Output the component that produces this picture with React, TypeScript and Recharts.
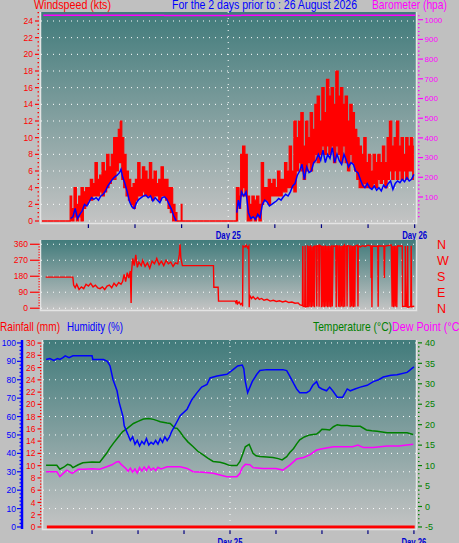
import React from 'react';
import { ComposedChart, Line, Area, XAxis, YAxis, CartesianGrid } from 'recharts';

const NARROW = '"Liberation Sans Narrow", "Liberation Sans", Arial, sans-serif';
const SANS = '"Liberation Sans", Arial, sans-serif';

// hours since Day 24 00:00 -> [hour, gust low, gust high, average]
const wind: [number, number, number, number | null][] = [
  [0, 0, 0, null], [3.6, 0, 0, null],
  [3.7, 0, 3, 0.3], [4.0, 0, 1.5, 0.5], [4.3, 0.5, 4, 1.5], [4.6, 0, 2, 0.3], [4.9, 0.5, 3, 0.8],
  [5.2, 0, 4, 1.2], [5.5, 1.5, 3.5, 2], [5.8, 2, 4, 1.8], [6.1, 2.5, 4, 2.3], [6.4, 2.5, 5, 2.8],
  [6.7, 3, 4.5, 2.6], [7.0, 3, 7, 2.8], [7.3, 3, 5, 2.5], [7.6, 3.5, 5.5, 3.0], [7.9, 3, 7, 3.2],
  [8.2, 3.5, 6, 3.6], [8.5, 4, 8, 4.2], [8.8, 4.5, 6.5, 4.6], [9.1, 5, 8, 5.0], [9.4, 5, 10, 5.3],
  [9.7, 6, 10, 5.5], [10.0, 7, 11, 5.8], [10.2, 7, 12, 6.2], [10.4, 5, 10, 5.3], [10.7, 4, 8, 4.5],
  [11.0, 3, 6, 3.5], [11.3, 2.5, 5, 2.3], [11.6, 2, 4, 1.7], [11.9, 1.5, 4.5, 1.5], [12.2, 2.5, 5, 2.2],
  [12.5, 3, 7, 2.6], [12.8, 3, 5, 2.8], [13.1, 3.5, 6.5, 3.0], [13.4, 3, 6, 3.1], [13.7, 3, 5, 2.8],
  [14.0, 3, 7, 3.0], [14.3, 2.5, 5, 2.4], [14.6, 3, 6, 2.8], [14.9, 3, 4.5, 2.5], [15.2, 2.5, 5, 2.2],
  [15.5, 3, 6.5, 2.8], [15.8, 3, 5, 2.9], [16.1, 2.5, 5, 2.6], [16.4, 1.5, 4, 2.0], [16.7, 1, 4, 1.4],
  [17.0, 0, 2, 0.6], [17.3, 0, 1, 0], [17.5, 0, 0, null], [17.9, 0, 0, null], [18.0, 0, 2, null],
  [18.1, 0, 0, null], [25.0, 0, 0, null],
  [25.1, 0, 4, 1.0], [25.3, 2, 4, 2.5], [25.5, 1.5, 3, 1.5], [25.7, 3, 8, 3.5], [26.0, 4, 9, 3.0],
  [26.3, 3, 8, 3.5], [26.6, 0, 3, 1.0], [26.9, 0, 2, 0.3], [27.2, 0.5, 3, 0.5], [27.5, 0, 2.5, 0.2],
  [27.8, 0.5, 3, 0.8], [28.1, 0, 2, 0.4], [28.4, 2, 7, 2.0], [28.7, 2.5, 4, 2.5], [29.0, 2.5, 4, 2.3],
  [29.3, 2, 5, 1.8], [29.6, 3, 4.5, 2.0], [29.9, 3, 5, 2.2], [30.2, 3, 4, 2.4], [30.5, 3, 6, 2.7],
  [30.8, 3, 5, 2.5], [31.1, 3.5, 5, 2.9], [31.4, 3.5, 7, 3.2], [31.7, 4, 6, 3.0], [32.0, 4, 9, 3.5],
  [32.3, 4, 6, 4.2], [32.6, 3.5, 12, 4.5], [32.9, 6, 10, 5.5], [33.2, 7, 12, 6.0], [33.5, 6, 13, 6.8],
  [33.8, 5, 9, 5.0], [34.1, 6, 12, 6.5], [34.4, 7, 10, 5.8], [34.7, 6, 13, 6.0], [35.0, 7, 11, 7.0],
  [35.3, 8, 14, 7.3], [35.6, 7, 15, 8.0], [35.9, 8, 12, 7.3], [36.2, 9, 16, 8.5], [36.5, 8, 13, 7.0],
  [36.8, 9, 17, 8.0], [37.1, 8, 15, 7.5], [37.4, 9, 16, 8.8], [37.7, 7, 14, 7.0], [38.0, 9, 18, 8.0],
  [38.3, 8, 15, 7.2], [38.6, 7, 16, 6.8], [38.9, 9, 14, 8.0], [39.2, 7, 15, 7.3], [39.5, 6, 12, 6.5],
  [39.8, 8, 14, 7.0], [40.1, 7, 13, 6.8], [40.4, 6, 11, 6.0], [40.7, 5, 10, 5.8], [41.0, 4, 9, 5.0],
  [41.3, 4, 8, 4.3], [41.6, 4.5, 10, 4.0], [41.9, 4, 7, 4.5], [42.2, 4, 8, 4.0], [42.5, 4, 6, 3.8],
  [42.8, 4.5, 8, 4.2], [43.1, 4, 7, 3.7], [43.4, 5, 8, 4.0], [43.7, 4.5, 7, 3.6], [44.0, 5, 9, 4.3],
  [44.3, 4, 7, 4.0], [44.6, 5, 10, 4.5], [44.9, 6, 12, 4.8], [45.2, 5, 9, 3.8], [45.5, 6, 10, 4.5],
  [45.8, 5, 12, 4.8], [46.1, 6, 9, 4.6], [46.4, 5, 10, 5.0], [46.7, 6, 8, 4.7], [47.0, 5, 10, 5.2],
  [47.3, 6, 9, 4.8], [47.6, 6, 10, 5.0], [47.9, 5, 9, 5.6],
];

const barometer: [number, number][] = [
  [0.2, 1022], [15.7, 1022], [15.8, 1021.5], [25.6, 1021.5], [25.7, 1022], [48.1, 1022],
];

const direction: [number, number][] = [
  [0.5, 175], [4.0, 175], [4.1, 130], [4.3, 115], [4.5, 135], [4.8, 105], [5.1, 120], [5.4, 110],
  [5.7, 135], [6.0, 125], [6.3, 140], [6.6, 120], [6.9, 130], [7.2, 115], [7.5, 110], [7.8, 120],
  [8.1, 105], [8.4, 125], [8.7, 130], [9.0, 115], [9.3, 140], [9.6, 125], [9.9, 145], [10.2, 135],
  [10.4, 150], [10.6, 190], [10.8, 150], [11.0, 200], [11.2, 170], [11.4, 210], [11.5, 30], [11.55, 200],
  [11.7, 280], [11.9, 240], [12.1, 300], [12.3, 230], [12.5, 260], [12.8, 240], [13.0, 270], [13.3, 235],
  [13.6, 255], [13.9, 225], [14.2, 265], [14.5, 250], [14.8, 280], [15.1, 245], [15.4, 265], [15.7, 240],
  [16.0, 270], [16.3, 250], [16.6, 260], [16.9, 235], [17.2, 255], [17.5, 250], [17.7, 300], [17.8, 360],
  [17.9, 285], [18.1, 240], [22.1, 240], [22.15, 118], [22.7, 118], [22.75, 40], [24.9, 40], [25.0, 30],
  [25.1, 45], [25.2, 25], [25.4, 35], [25.6, 20], [25.8, 30], [25.85, 10], [25.9, 350], [26.2, 345],
  [26.3, 355], [26.5, 340], [26.65, 350], [26.7, 5], [26.75, 60], [26.8, 70], [27.0, 55], [27.2, 65],
  [27.5, 50], [27.8, 60], [28.0, 50], [28.3, 55], [28.6, 45], [29.0, 50], [29.4, 40], [29.8, 45],
  [30.2, 38], [30.6, 42], [31.0, 35], [31.4, 40], [31.8, 32], [32.2, 35], [32.6, 28], [33.0, 30],
  [33.2, 20], [33.55, 15], [33.6, 350], [33.65, 10], [33.85, 12], [33.9, 352], [33.95, 8], [34.15, 10],
  [34.2, 355], [34.3, 5], [34.4, 350], [34.5, 8], [34.6, 355], [34.7, 5], [34.8, 348], [34.9, 10],
  [35.0, 352], [35.1, 6], [35.15, 350], [35.35, 348], [35.4, 10], [35.45, 352], [35.65, 350], [35.7, 8],
  [35.75, 355], [35.95, 350], [36.0, 5], [36.1, 352], [36.2, 8], [36.3, 350], [36.4, 5], [36.5, 355],
  [36.6, 10], [36.7, 350], [36.8, 5], [36.9, 352], [37.0, 8], [37.1, 350], [37.2, 5], [37.3, 355],
  [37.4, 10], [37.5, 350], [37.85, 348], [37.9, 5], [37.95, 352], [38.1, 350], [38.2, 8], [38.3, 355],
  [38.4, 5], [38.5, 350], [38.6, 10], [38.7, 352], [38.8, 6], [38.85, 350], [38.95, 355], [39.0, 8],
  [39.05, 350], [39.25, 348], [39.3, 10], [39.35, 352], [39.6, 350], [39.7, 5], [39.8, 355], [39.9, 10],
  [40.0, 350], [40.1, 5], [40.2, 352], [40.3, 8], [40.35, 350], [40.65, 355], [40.7, 10], [40.75, 350],
  [41.0, 345], [41.3, 352], [41.6, 348], [42.0, 355], [42.35, 350], [42.4, 170], [42.45, 352], [42.5, 5],
  [42.55, 350], [43.25, 348], [43.3, 8], [43.35, 352], [44.05, 350], [44.1, 170], [44.15, 350],
  [45.0, 355], [45.1, 8], [45.2, 350], [45.3, 5], [45.4, 352], [45.5, 10], [45.6, 350], [45.7, 5],
  [45.8, 355], [45.85, 350], [46.4, 350], [46.45, 10], [46.75, 12], [46.8, 350], [46.85, 170], [46.9, 10],
  [47.05, 8], [47.1, 350], [47.15, 5], [47.5, 10], [47.55, 352], [47.6, 8], [47.95, 12],
];

const humidity: [number, number][] = [
  [0, 91], [0.5, 91.5], [1.0, 90.5], [1.5, 91.5], [1.8, 91], [2.2, 92], [2.5, 93], [3.0, 92],
  [3.5, 93], [4.5, 93], [5.5, 93], [6.0, 93], [6.1, 91], [7.5, 91], [8.0, 90], [8.35, 87.5],
  [8.74, 80], [9.26, 74], [9.52, 68], [10.04, 60], [10.2, 55], [10.6, 51], [11.0, 47], [11.3, 49],
  [11.6, 45], [11.9, 47], [12.2, 44], [12.5, 46.5], [12.8, 45], [13.1, 48], [13.4, 44.5], [13.7, 46],
  [14.0, 45], [14.3, 47], [14.6, 45], [14.9, 48], [15.2, 46], [15.5, 49], [15.8, 47], [16.1, 49],
  [16.4, 52], [16.8, 55], [17.5, 60.5], [18.4, 64], [19.0, 69], [19.7, 73], [20.3, 76], [21.0, 77.5],
  [21.4, 81], [22.3, 82], [23.6, 83], [24.4, 85.5], [25.0, 87.5], [25.6, 88], [25.8, 86], [26.0, 79],
  [26.3, 73], [26.9, 79], [27.5, 83], [27.9, 85], [28.8, 85.5], [30.9, 85.5], [31.4, 85], [31.8, 82],
  [32.3, 78], [32.7, 75], [33.1, 73], [34.0, 73], [34.4, 74], [34.8, 77], [35.3, 79], [35.6, 76],
  [36.0, 75], [36.6, 74], [37.0, 76], [37.4, 74], [38.0, 70.5], [38.7, 70.5], [39.3, 75], [39.7, 74],
  [40.3, 75], [41.0, 76], [41.9, 77], [42.7, 79], [43.4, 80], [44.0, 81.5], [45.0, 82.5], [45.8, 82.7],
  [47.1, 84], [47.4, 85], [47.7, 86], [48.0, 87],
];

const temperature: [number, number][] = [
  [0, 10.1], [1.4, 10.1], [1.8, 9.1], [2.3, 9.6], [2.8, 10.3], [3.2, 10.1], [3.5, 9.5], [4.2, 10.2],
  [4.8, 10.7], [6.0, 10.9], [7.0, 10.8], [7.4, 11.8], [7.9, 13], [8.3, 14.2], [8.8, 15.5], [9.3, 16.7],
  [10.0, 18.3], [10.6, 19.1], [11.4, 20.3], [12.0, 20.8], [12.7, 21.4], [13.4, 21.5], [14.0, 21.3],
  [14.5, 21], [14.9, 20.7], [15.8, 20.4], [16.2, 20.3], [16.8, 19.2], [17.1, 19.1], [17.5, 18.2],
  [17.9, 17.1], [18.5, 15.8], [19.2, 14.6], [19.8, 13.5], [20.5, 12.6], [21.1, 11.8], [21.8, 11],
  [22.7, 10.8], [23.3, 10.5], [24, 10], [24.9, 10], [25.3, 11], [25.7, 13], [26.0, 14.6], [26.5, 15.2],
  [27, 13], [27.4, 12.4], [27.9, 12.2], [28.8, 12.1], [29.6, 12], [30.3, 11.7], [30.8, 11.4],
  [31.4, 12.2], [31.8, 13.2], [32.3, 14.2], [32.7, 15.3], [33.1, 16.3], [33.7, 17], [34.4, 17.5],
  [35.3, 17.7], [35.7, 18.3], [36.0, 18.9], [36.5, 18.8], [37, 18.7], [37.5, 19.5], [38, 20],
  [38.5, 19.8], [39.3, 19.8], [40, 19.6], [41, 19.6], [41.8, 18.7], [42.5, 18.5], [43.2, 18.4],
  [44.5, 18], [46, 18], [47.1, 18], [47.9, 17.6],
];

const dewPoint: [number, number][] = [
  [0, 8.5], [1.4, 8.5], [1.8, 7.3], [2.7, 8.9], [3.4, 8.1], [4.2, 9.1], [5, 9.1], [6, 9.2], [7, 9.1],
  [7.9, 9.7], [8.6, 10.2], [9.2, 10.9], [9.5, 11], [9.8, 10.3], [10.4, 9.3], [10.7, 8.6], [11.0, 9.4],
  [11.3, 8.4], [11.6, 9.2], [11.9, 8.2], [12.2, 9.5], [12.5, 8.7], [12.8, 9.6], [13.1, 8.8],
  [13.4, 9.8], [13.7, 8.9], [14.0, 9.4], [14.3, 8.8], [14.6, 9.6], [15.0, 9.2], [15.8, 9.7],
  [16.5, 9.7], [17.5, 9.7], [18.4, 9.3], [19.2, 8.5], [20.5, 8.4], [21.8, 8.1], [22.7, 7.7],
  [23.6, 7.3], [24.9, 7.3], [25.3, 8.1], [25.6, 9.5], [26, 10.3], [26.6, 10.2], [27, 9.5], [28.3, 9.3],
  [30, 9.3], [30.9, 8.9], [31.8, 10.1], [32.7, 11.6], [33.6, 12], [34.4, 12.6], [35.3, 13.8],
  [36.2, 14.2], [37.5, 14.6], [40, 14.6], [40.7, 15], [41.4, 14.4], [42.7, 14.4], [44.5, 14.8],
  [46, 14.8], [47.9, 15.2],
];

const rainfall: [number, number][] = [[0.1, 0], [48.1, 0]];

const windTicks = [0, 2, 4, 6, 8, 10, 12, 14, 16, 18, 20, 22, 24];
const baroTicks = [100, 200, 300, 400, 500, 600, 700, 800, 900, 1000];
const dirTicks = [0, 90, 180, 270, 360];
const compass = ['N', 'E', 'S', 'W', 'N'];
const humTicks = [0, 10, 20, 30, 40, 50, 60, 70, 80, 90, 100];
const humGrid = [10, 20, 30, 40, 50, 60, 70, 80, 90, 100];
const rainTicks = [0, 2, 4, 6, 8, 10, 12, 14, 16, 18, 20, 22, 24, 26, 28, 30];
const tempTicks = [-5, 0, 5, 10, 15, 20, 25, 30, 35, 40];
const hourTicks = [6, 12, 18, 24, 30, 36, 42, 48];
const dayLabels: Record<number, string> = { 24: 'Day 25', 48: 'Day 26' };

const steps = (from: number, to: number, step: number) => {
  const out: number[] = [];
  for (let v = from; v <= to + 1e-9; v += step) out.push(Math.round(v * 100) / 100);
  return out;
};

const windData = wind.map(([h, lo, hi, avg]) => ({ h, range: [lo, hi], avg }));
const toPts = (rows: [number, number][]) => rows.map(([h, v]) => ({ h, v }));

type AxisStyle = {
  majors: number[];
  color: string;
  side: 'left' | 'right';
  gap: number;
  major: number;
  minor: number;
  labelGap: number;
  size: number;
  family: string;
  format?: (v: number) => string;
};

const axisTick = (s: AxisStyle) => (props: any) => {
  const { x, y, payload } = props;
  const v = payload.value;
  const isMajor = s.majors.includes(v);
  const d = s.side === 'left' ? -1 : 1;
  const x0 = x + d * s.gap;
  const len = isMajor ? s.major : s.minor;
  return (
    <g>
      {len > 0 && <line x1={x0} x2={x0 + d * len} y1={y} y2={y} stroke={s.color} strokeWidth={1.2} />}
      {isMajor && (
        <text
          x={x0 + d * (s.major + s.labelGap)}
          y={y}
          dy="0.36em"
          textAnchor={s.side === 'left' ? 'end' : 'start'}
          fill={s.color}
          fontSize={s.size}
          fontFamily={s.family}
        >
          {s.format ? s.format(v) : v}
        </text>
      )}
    </g>
  );
};

const dayTick = (labelDy: number) => (props: any) => {
  const { x, y, payload } = props;
  const label = dayLabels[payload.value];
  return (
    <g>
      <line x1={x} x2={x} y1={y + 1} y2={y + 5} stroke="#000080" strokeWidth={1.2} />
      {label && (
        <text x={x} y={y + labelDy} textAnchor="middle" fill="#0000d0" fontSize={10} fontWeight="bold"
          fontFamily={SANS} textLength={25} lengthAdjust="spacingAndGlyphs">
          {label}
        </text>
      )}
    </g>
  );
};

const Gradient = ({ id }: { id: string }) => (
  <defs>
    <linearGradient id={id} x1="0" y1="0" x2="0" y2="1">
      <stop offset="0%" stopColor="#417b7b" />
      <stop offset="100%" stopColor="#c4c4c4" />
    </linearGradient>
  </defs>
);

const X_TOP: [number, number] = [-0.1, 48.3];
const X_BOTTOM: [number, number] = [-0.4, 48.4];
const W_DOM: [number, number] = [-0.24, 25.08];
const B_DOM: [number, number] = [-32, 1039];
const D_DOM: [number, number] = [-10, 384];
const H_DOM: [number, number] = [-1.1, 101.6];
const R_DOM: [number, number] = [-0.33, 30.5];
const T_DOM: [number, number] = [-5.5, 40.7];

const GRID = { stroke: '#ffffff', strokeDasharray: '1 5' };

const WindChart = () => (
  <ComposedChart width={459} height={245} data={windData} margin={{ top: 12, right: 0, bottom: 0, left: 0 }}>
    <Gradient id="bgWind" />
    <CartesianGrid yAxisId="w" horizontalValues={windTicks} verticalValues={[24]} fill="url(#bgWind)" {...GRID} />
    <XAxis
      type="number" dataKey="h" domain={X_TOP} ticks={hourTicks} interval={0} height={22}
      tick={dayTick(16)} tickSize={0} tickMargin={0} tickLine={false} axisLine={false} allowDataOverflow
    />
    <YAxis
      yAxisId="w" orientation="left" width={41} domain={W_DOM} ticks={steps(0, 25, 0.5)} interval={0}
      tick={axisTick({ majors: windTicks, color: '#ff0000', side: 'left', gap: 2, major: 4, minor: 1.5, labelGap: 2, size: 8.5, family: SANS })}
      tickSize={0} tickMargin={0} tickLine={false} axisLine={false} allowDataOverflow
    />
    <YAxis
      yAxisId="b" orientation="right" width={42} domain={B_DOM} ticks={steps(0, 1020, 20)} interval={0}
      tick={axisTick({ majors: baroTicks, color: '#ff00ff', side: 'right', gap: 1, major: 5, minor: 1.5, labelGap: 1.5, size: 8, family: NARROW })}
      tickSize={0} tickMargin={0} tickLine={false} axisLine={false} allowDataOverflow
    />
    <Area yAxisId="w" dataKey="range" type="step" stroke="#ff0000" strokeWidth={1.2} fill="#ff0000" fillOpacity={1} dot={false} activeDot={false} isAnimationActive={false} />
    <Line yAxisId="w" dataKey="avg" type="linear" stroke="#0000ff" strokeWidth={1.5} dot={false} activeDot={false} isAnimationActive={false} />
    <Line yAxisId="b" data={toPts(barometer)} dataKey="v" type="linear" stroke="#ff00ff" strokeWidth={1.5} dot={false} activeDot={false} isAnimationActive={false} />
  </ComposedChart>
);

const DirectionChart = () => (
  <ComposedChart width={459} height={88} margin={{ top: 6, right: 0, bottom: 12, left: 0 }}>
    <Gradient id="bgDir" />
    <CartesianGrid yAxisId="d" horizontalValues={dirTicks} vertical={false} fill="url(#bgDir)" {...GRID} />
    <XAxis type="number" dataKey="h" hide domain={X_TOP} allowDataOverflow />
    <YAxis
      yAxisId="d" orientation="left" width={41} domain={D_DOM} ticks={steps(0, 360, 15)} interval={0}
      tick={axisTick({ majors: dirTicks, color: '#ff0000', side: 'left', gap: 1, major: 10, minor: 1.5, labelGap: 2, size: 8.5, family: SANS })}
      tickSize={0} tickMargin={0} tickLine={false} axisLine={false} allowDataOverflow
    />
    <YAxis
      yAxisId="c" orientation="right" width={42} domain={D_DOM} ticks={dirTicks} interval={0}
      tick={axisTick({ majors: dirTicks, color: '#ff0000', side: 'right', gap: 20, major: 0, minor: 0, labelGap: 0, size: 12.5, family: SANS, format: (v) => compass[dirTicks.indexOf(v)] })}
      tickSize={0} tickMargin={0} tickLine={false} axisLine={false} allowDataOverflow
    />
    <Line yAxisId="d" data={toPts(direction)} dataKey="v" type="linear" stroke="#ff0000" strokeWidth={1.4} dot={false} activeDot={false} isAnimationActive={false} />
  </ComposedChart>
);

// left axes: "a_rain" sits next to the plot, "b_hum" outside it
const ClimateChart = () => (
  <ComposedChart width={459} height={215} margin={{ top: 6, right: 0, bottom: 0, left: 0 }}>
    <Gradient id="bgClimate" />
    <CartesianGrid yAxisId="b_hum" horizontalValues={humGrid} verticalValues={[24]} fill="url(#bgClimate)" {...GRID} />
    <XAxis
      type="number" dataKey="h" domain={X_BOTTOM} ticks={hourTicks} interval={0} height={20}
      tick={dayTick(17)} tickSize={0} tickMargin={0} tickLine={false} axisLine={false} allowDataOverflow
    />
    <YAxis
      yAxisId="a_rain" orientation="left" width={21} domain={R_DOM} ticks={steps(0, 30, 0.5)} interval={0}
      tick={axisTick({ majors: rainTicks, color: '#ff0000', side: 'left', gap: 1.5, major: 4, minor: 1.5, labelGap: 2, size: 8.5, family: SANS })}
      tickSize={0} tickMargin={0} tickLine={false} axisLine={false} allowDataOverflow
    />
    <YAxis
      yAxisId="b_hum" orientation="left" width={22} domain={H_DOM} ticks={steps(0, 100, 2)} interval={0}
      tick={axisTick({ majors: humTicks, color: '#0000ff', side: 'left', gap: 1, major: 4, minor: 1.5, labelGap: 1, size: 8.5, family: SANS })}
      tickSize={0} tickMargin={0} tickLine={false} axisLine={{ stroke: '#0000ff', strokeWidth: 2.5 }} allowDataOverflow
    />
    <YAxis
      yAxisId="t" orientation="right" width={42} domain={T_DOM} ticks={steps(-5, 40, 1)} interval={0}
      tick={axisTick({ majors: tempTicks, color: '#008000', side: 'right', gap: 1, major: 4, minor: 1.5, labelGap: 3, size: 9, family: SANS })}
      tickSize={0} tickMargin={0} tickLine={false} axisLine={false} allowDataOverflow
    />
    <Line yAxisId="t" data={toPts(temperature)} dataKey="v" type="linear" stroke="#008000" strokeWidth={1.5} dot={false} activeDot={false} isAnimationActive={false} />
    <Line yAxisId="t" data={toPts(dewPoint)} dataKey="v" type="linear" stroke="#ff00ff" strokeWidth={1.5} dot={false} activeDot={false} isAnimationActive={false} />
    <Line yAxisId="b_hum" data={toPts(humidity)} dataKey="v" type="linear" stroke="#0000ff" strokeWidth={1.5} dot={false} activeDot={false} isAnimationActive={false} />
    <Line yAxisId="a_rain" data={toPts(rainfall)} dataKey="v" type="linear" stroke="#ff0000" strokeWidth={3} dot={false} activeDot={false} isAnimationActive={false} />
  </ComposedChart>
);

const Frame = ({ x, y, w, h }: { x: number; y: number; w: number; h: number }) => (
  <path d={`M${x} ${y} V${y + h} H${x + w} V${y}`} fill="none" stroke="#e4e4e4" strokeWidth={1.5} />
);

const App: React.FC = () => {
  const label = (x: number, y: number, color: string, text: string, width: number) => (
    <text x={x} y={y} fill={color} fontSize={13} fontFamily={SANS} textLength={width} lengthAdjust="spacingAndGlyphs">
      {text}
    </text>
  );
  return (
    <div style={{ position: 'fixed', left: 0, top: 0, width: 459, height: 543, background: '#c0c0c0', overflow: 'hidden' }}>
      <div style={{ position: 'absolute', left: 0, top: 0 }}><WindChart /></div>
      <div style={{ position: 'absolute', left: 0, top: 234 }}><DirectionChart /></div>
      <div style={{ position: 'absolute', left: 0, top: 334 }}><ClimateChart /></div>
      <svg width={459} height={543} style={{ position: 'absolute', left: 0, top: 0, pointerEvents: 'none' }}>
        {label(34, 9, '#ff0000', 'Windspeed (kts)', 77)}
        {label(172, 9, '#0000ff', 'For the 2 days prior to : 26 August 2026', 185)}
        {label(372, 9, '#ff00ff', 'Barometer (hpa)', 75)}
        {label(0, 331, '#ff0000', 'Rainfall (mm)', 60)}
        {label(67, 331, '#0000ff', 'Humidity (%)', 56)}
        {label(313, 331, '#008000', 'Temperature (°C)', 79)}
        {label(392, 331, '#ff00ff', 'Dew Point (°C)', 71)}
        <Frame x={40.5} y={12} w={376} h={211.5} />
        <Frame x={40.5} y={240} w={376} h={70.5} />
        <Frame x={42.5} y={340} w={374} h={189.5} />
      </svg>
    </div>
  );
};

export default App;
